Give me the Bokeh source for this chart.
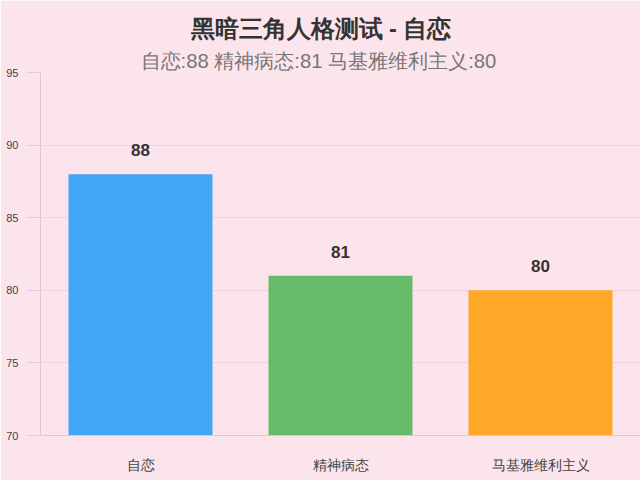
from bokeh.plotting import figure
from bokeh.models import Title, ColumnDataSource, FixedTicker, LabelSet, Range1d
from bokeh.core.properties import value
from bokeh.embed import file_html
from bokeh.resources import INLINE

categories = ["自恋", "精神病态", "马基雅维利主义"]
values = [88, 81, 80]
colors = ["#42a5f5", "#66bb6a", "#ffa726"]
y_ticks = [70, 75, 80, 85, 90, 95]
title_text = "黑暗三角人格测试 - 自恋"
subtitle_text = "自恋:88 精神病态:81 马基雅维利主义:80"

FONT = "Liberation Sans"
BG = "#fce4ec"

src = ColumnDataSource(dict(cat=categories, val=values, color=colors,
                            label=[str(v) for v in values]))

p = figure(x_range=categories, y_range=Range1d(70, 95), width=640, height=480,
           output_backend="svg", toolbar_location=None, title=None,
           min_border_left=40, min_border_right=0, min_border_top=72, min_border_bottom=45)
p.background_fill_color = BG
p.border_fill_color = BG
p.outline_line_color = None

p.vbar(x="cat", top="val", bottom=70, width=0.72, color="color", source=src, line_color=None)

labels = LabelSet(x="cat", y="val", text="label", source=src, y_offset=18,
                  text_align="center", text_baseline="bottom",
                  text_font=value(FONT), text_font_size="17px", text_font_style="bold",
                  text_color="#333333")
p.add_layout(labels)

sub = Title(text=subtitle_text, align="left", text_font=FONT, text_font_size="20.3px",
            text_font_style="normal", text_color="#777777", standoff=2, offset=100)
main = Title(text=title_text, align="left", text_font=FONT, text_font_size="23.6px",
             text_font_style="bold", text_color="#333333", standoff=9, offset=150)
p.add_layout(sub, "above")
p.add_layout(main, "above")

p.yaxis.ticker = FixedTicker(ticks=y_ticks)
p.yaxis.major_tick_out = 14
p.yaxis.major_tick_in = 0
p.yaxis.minor_tick_line_color = None
p.yaxis.major_tick_line_color = "#ecc8d4"
p.yaxis.axis_line_color = "#e2c4ce"
p.yaxis.major_label_text_font = FONT
p.yaxis.major_label_text_font_size = "11px"
p.yaxis.major_label_text_color = "#444444"
p.yaxis.major_label_standoff = 8

p.xaxis.major_tick_line_color = None
p.xaxis.minor_tick_line_color = None
p.xaxis.axis_line_color = "#e2c4ce"
p.xaxis.major_label_text_font = FONT
p.xaxis.major_label_text_font_size = "14px"
p.xaxis.major_label_text_color = "#444444"
p.xaxis.major_label_standoff = 15

p.xgrid.grid_line_color = None
p.ygrid.grid_line_color = "#f0d0da"
p.ygrid.ticker = FixedTicker(ticks=y_ticks)

open("out.html", "w").write(file_html(p, INLINE))
